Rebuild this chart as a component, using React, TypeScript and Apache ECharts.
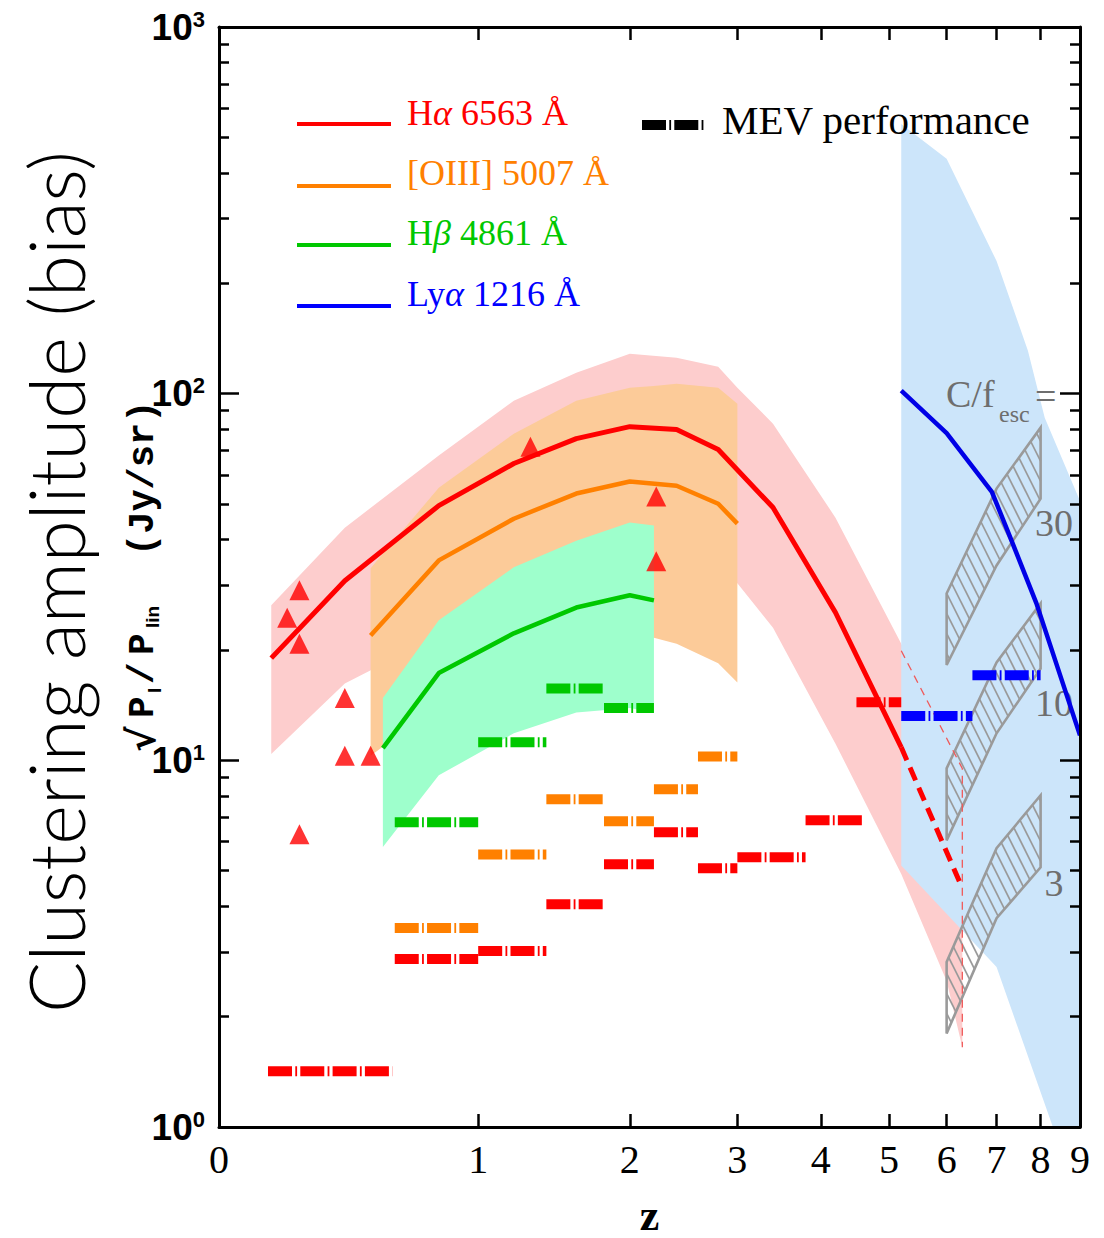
import React, { useEffect, useRef } from "react";
import * as echarts from "echarts";

// ---- axis ticks -------------------------------------------------------
const zTicks = [0, 1, 2, 3, 4, 5, 6, 7, 8, 9];
const decades = [0, 1, 2, 3];
const minorSteps = [2, 3, 4, 5, 6, 7, 8, 9];

// ---- Hα 6563 Å model -------------------------------------------------
const haZ = [0.15, 0.4, 0.8, 1.2, 1.6, 2.0, 2.4, 2.8, 3.4, 4.2, 5.2];
const haV = [19.0, 30.9, 49.5, 64.5, 75.4, 81.3, 79.8, 70.4, 48.9, 25.3, 10.85];
const haExtZ = [5.2, 6.3];
const haExtV = [10.85, 4.48];
const haBandZ = [0.15, 0.4, 0.8, 1.2, 1.6, 2.0, 2.4, 2.8, 3.0, 3.4, 4.2, 5.2, 6.0, 6.3];
const haBandHigh = [26.5, 43.1, 67.8, 95.7, 114, 128.5, 125.3, 118.5, 103.8, 82.8, 45.9, 20.8, 11.5, 9.4];
const haBandLow = [10.4, 16.2, 21.9, 27.3, 30.0, 31.3, 31.3, 31.5, 30.4, 23.0, 11.1, 4.9, 2.5, 1.65];
const haEdgeZ = [5.2, 6.3, 6.3];
const haEdgeV = [19.9, 9.5, 1.65];

// ---- [OIII] 5007 Å model ---------------------------------------------
const oiiiZ = [0.5, 0.8, 1.2, 1.6, 2.0, 2.4, 2.8, 3.0];
const oiiiV = [21.9, 35.1, 45.6, 53.4, 57.6, 56.1, 50.1, 44.2];
const oiiiBandZ = [0.5, 0.8, 1.2, 1.6, 2.0, 2.2, 2.4, 2.8, 3.0];
const oiiiBandHigh = [33.4, 55.4, 77.8, 95.7, 103.8, 105, 106.5, 103.8, 93.9];
const oiiiBandLow = [10.3, 14.1, 17.4, 19.3, 21.0, 21.6, 20.8, 18.4, 16.3];

// ---- Hβ 4861 Å model -------------------------------------------------
const hbZ = [0.55, 0.8, 1.2, 1.6, 2.0, 2.2];
const hbV = [10.8, 17.3, 22.2, 26.1, 28.2, 27.3];
const hbBandZ = [0.55, 0.8, 1.2, 1.6, 2.0, 2.2];
const hbBandHigh = [14.8, 24.1, 33.6, 39.7, 44.5, 43.7];
const hbBandLow = [5.8, 9.1, 11.85, 13.5, 13.9, 13.5];

// ---- Lyα 1216 Å model ------------------------------------------------
const lyaZ = [5.2, 6.0, 6.9, 7.3, 7.9, 9.0];
const lyaV = [102, 78, 54, 40.5, 26.8, 11.7];
const lyaBandHighZ = [5.2, 6.0, 7.0, 7.7, 8.1, 9.0];
const lyaBandHigh = [544, 437, 230, 131, 86, 51];
const lyaBandLowZ = [5.2, 7.0, 8.3, 9.0];
const lyaBandLow = [5.17, 2.73, 1.0, 1.0];

// ---- Lyα bias for C/f_esc = 3, 10, 30 ---------------------------------
const escZ = [6, 7, 8];
const esc3High = [2.82, 5.76, 8.03];
const esc3Low = [1.8, 3.71, 5.11];
const esc10High = [9.51, 18.5, 26.8];
const esc10Low = [6.05, 11.85, 17.8];
const esc30High = [28.5, 55.1, 80.8];
const esc30Low = [18.2, 34.0, 51.7];
const escLabels = ["3", "10", "30"];
const escLabelZ = 8.33;
const escLabelV = [4.62, 14.3, 44.5];

// ---- measured points ---------------------------------------------------
const pointZ = [0.24, 0.2, 0.24, 0.4, 0.4, 0.5, 1.3, 2.22, 2.22, 0.24];
const pointV = [29.1, 24.5, 20.8, 14.8, 10.3, 10.3, 71.7, 52.4, 34.9, 6.29];

// ---- MEV performance: [z from, z to, amplitude] -----------------------
const mevHa = [
  [0.14, 0.59, 1.42], [0.6, 1.0, 2.87], [1.0, 1.4, 3.02], [1.4, 1.8, 4.05],
  [1.8, 2.2, 5.21], [2.2, 2.6, 6.37], [2.6, 3.0, 5.08], [3.0, 3.8, 5.44],
  [3.8, 4.6, 6.86], [4.5, 5.2, 14.4],
];
const mevOiii = [
  [0.6, 1.0, 3.49], [1.0, 1.4, 5.54], [1.4, 1.8, 7.83], [1.8, 2.2, 6.82],
  [2.2, 2.6, 8.34], [2.6, 3.0, 10.25],
];
const mevHb = [[0.6, 1.0, 6.78], [1.0, 1.4, 11.2], [1.4, 1.8, 15.7], [1.8, 2.2, 13.9]];
const mevLya = [[5.2, 6.5, 13.2], [6.5, 8.0, 17.05]];

const legendLabels = ["Hα 6563 Å", "[OIII] 5007 Å", "Hβ 4861 Å", "Lyα 1216 Å"];

// ---- styling ---------------------------------------------------------
const RED = "#ff0000";
const ORANGE = "#ff8000";
const GREEN = "#00c800";
const BLUE = "#0000ff";
const GRAY = "#9a9a9a";
const LABEL_GRAY = "#6e6e6e";
const PINK_FILL = "#fdcdcd";
const ORANGE_FILL = "#fccb99";
const GREEN_FILL = "#9effcc";
const BLUE_FILL = "#cce5fa";
const MEV_DASH = [24, 3.3, 1.8, 3.2];
const SERIF = "'Liberation Serif', 'DejaVu Serif', serif";
const SANS = "'Liberation Sans', Arial, sans-serif";
const MONO = "'Liberation Mono', 'DejaVu Sans Mono', monospace";

// x axis is linear in log10(1+z), y axis linear in log10(amplitude)
const X = (z: number) => Math.log10(1 + z);
const Y = (v: number) => Math.log10(v);
const pts = (zs: number[], vs: number[]) => zs.map((z, i) => [X(z), Y(vs[i])]);

function bandSeries(name: string, zHi: number[], hi: number[], zLo: number[], lo: number[], fill: string, z: number) {
  const poly = [...pts(zHi, hi), ...pts(zLo, lo).reverse()];
  return {
    type: "custom",
    name,
    silent: true,
    z,
    data: [poly[0]],
    encode: { x: 0, y: 1 },
    renderItem: (_p: any, api: any) => ({
      type: "polygon",
      shape: { points: poly.map((p) => api.coord(p)) },
      style: { fill },
    }),
  };
}

function lineSeries(name: string, zs: number[], vs: number[], color: string, width: number, z: number, dash?: any) {
  return {
    type: "line",
    name,
    silent: true,
    z,
    showSymbol: false,
    symbol: "none",
    data: pts(zs, vs),
    lineStyle: { color, width, type: dash || "solid", cap: "butt" },
  };
}

function mevSeries(name: string, bars: number[][], color: string) {
  return {
    type: "custom",
    name,
    silent: true,
    z: 7,
    data: bars.map((b) => [X(b[0]), X(b[1]), Y(b[2])]),
    encode: { x: [0, 1], y: 2 },
    renderItem: (_p: any, api: any) => {
      const a = api.coord([api.value(0), api.value(2)]);
      const b = api.coord([api.value(1), api.value(2)]);
      return {
        type: "line",
        shape: { x1: a[0], y1: a[1], x2: b[0], y2: b[1] },
        style: { stroke: color, lineWidth: 10, lineDash: MEV_DASH, lineCap: "butt" },
      };
    },
  };
}

// diagonal hatching clipped to a polygon (pixel space)
function hatchSegments(poly: number[][], step: number) {
  const f = (p: number[]) => p[0] - 0.5 * p[1];
  const vals = poly.map(f);
  const cMin = Math.min(...vals);
  const cMax = Math.max(...vals);
  const segs: number[][][] = [];
  for (let c = Math.ceil(cMin / step) * step; c <= cMax; c += step) {
    const hits: number[][] = [];
    for (let i = 0; i < poly.length; i++) {
      const a = poly[i];
      const b = poly[(i + 1) % poly.length];
      const fa = f(a) - c;
      const fb = f(b) - c;
      if ((fa < 0 && fb >= 0) || (fa >= 0 && fb < 0)) {
        const t = fa / (fa - fb);
        hits.push([a[0] + t * (b[0] - a[0]), a[1] + t * (b[1] - a[1])]);
      }
    }
    hits.sort((p, q) => p[1] - q[1]);
    for (let k = 0; k + 1 < hits.length; k += 2) segs.push([hits[k], hits[k + 1]]);
  }
  return segs;
}

const escSets = [
  { high: esc3High, low: esc3Low },
  { high: esc10High, low: esc10Low },
  { high: esc30High, low: esc30Low },
];

const hatchSeries = {
  type: "custom",
  name: "C/f_esc",
  silent: true,
  z: 5,
  data: escLabelV.map((v, k) => [X(escLabelZ), Y(v), k]),
  encode: { x: 0, y: 1 },
  renderItem: (_p: any, api: any) => {
    const k = api.value(2);
    const set = escSets[k];
    const top = escZ.map((z, i) => api.coord([X(z), Y(set.high[i])]));
    const bot = escZ.map((z, i) => api.coord([X(z), Y(set.low[i])])).reverse();
    const poly = [...top, ...bot];
    const children: any[] = hatchSegments(poly, 10).map(([p, q]) => ({
      type: "line",
      shape: { x1: p[0], y1: p[1], x2: q[0], y2: q[1] },
      style: { stroke: GRAY, lineWidth: 1.7 },
    }));
    children.push({
      type: "polygon",
      shape: { points: poly },
      style: { fill: "none", stroke: GRAY, lineWidth: 2.6 },
    });
    const lp = api.coord([api.value(0), api.value(1)]);
    children.push({
      type: "text",
      x: lp[0],
      y: lp[1],
      style: {
        text: escLabels[k],
        fill: LABEL_GRAY,
        fontSize: 38,
        fontFamily: SERIF,
        align: "center",
        verticalAlign: "middle",
      },
    });
    return { type: "group", children };
  },
};

const tickLine = { color: "#000", width: 2.5 };
const axisLine = { show: true, onZero: false, lineStyle: { color: "#000", width: 3 } };

const xMajor = zTicks.filter((z) => z > 0).map(X);
const yMajor = [1, 2];
const yMinor: number[] = [];
decades.slice(0, 3).forEach((d) => minorSteps.forEach((m) => yMinor.push(d + Math.log10(m))));

function xAxisOf(position: "top" | "bottom", labels: boolean) {
  return {
    type: "value",
    position,
    min: 0,
    max: 1,
    z: 10,
    splitLine: { show: false },
    axisLine,
    axisTick: { show: true, inside: true, length: 13, customValues: xMajor, lineStyle: tickLine },
    axisLabel: labels
      ? {
          show: true,
          customValues: zTicks.map(X),
          formatter: (v: number) => String(Math.round(Math.pow(10, v) - 1)),
          fontFamily: SERIF,
          fontSize: 40,
          color: "#000",
          margin: 12,
        }
      : { show: false },
    name: labels ? "z" : "",
    nameLocation: "middle",
    nameGap: 66,
    nameTextStyle: { fontFamily: SERIF, fontWeight: "bold", fontSize: 44, color: "#000" },
  };
}

function yAxisOf(position: "left" | "right", minor: boolean, labels: boolean) {
  const base: any = {
    type: "value",
    position,
    min: 0,
    max: 3,
    z: 10,
    splitLine: { show: false },
    axisLine: minor ? { show: false, onZero: false } : axisLine,
    axisTick: {
      show: true,
      inside: true,
      length: minor ? 10 : 20,
      customValues: minor ? yMinor : yMajor,
      lineStyle: tickLine,
    },
    axisLabel: { show: false },
  };
  if (labels) {
    base.axisLabel = {
      show: true,
      customValues: decades,
      margin: 14,
      formatter: (v: number) => `{b|10}{s|${Math.round(v)}}`,
      rich: {
        b: { fontFamily: SANS, fontWeight: "bold", fontSize: 37, lineHeight: 38, color: "#000" },
        s: { fontFamily: SANS, fontWeight: "bold", fontSize: 22, lineHeight: 22, color: "#000", verticalAlign: "top" },
      },
    };
  }
  return base;
}

// legend rows
const legendLineY = [124, 186, 245, 306];
const legendTextY = [113, 173, 233, 294];
const legendColors = [RED, ORANGE, GREEN, BLUE];

const legendGraphics: any[] = [];
legendLabels.forEach((label, i) => {
  legendGraphics.push({
    type: "line",
    z: 20,
    shape: { x1: 297, y1: legendLineY[i], x2: 391, y2: legendLineY[i] },
    style: { stroke: legendColors[i], lineWidth: 4 },
  });
  legendGraphics.push({
    type: "text",
    z: 20,
    x: 407,
    y: legendTextY[i],
    style: {
      text: label.replace(/([αβ])/g, "{i|$1}"),
      fill: legendColors[i],
      fontFamily: SERIF,
      fontSize: 36,
      align: "left",
      verticalAlign: "middle",
      rich: { i: { fontFamily: SERIF, fontStyle: "italic", fontSize: 36, fill: legendColors[i] } },
    },
  });
});

// rotated y-axis title: √(P_l / P_lin) (Jy/sr), laid out along the rotated baseline
const yTitleMain = { fill: "#000", fontFamily: MONO, fontWeight: "bold", fontSize: 36, align: "left", verticalAlign: "middle" };
const yTitleSub = { fill: "#000", fontFamily: SANS, fontWeight: "bold", fontSize: 19, align: "left", verticalAlign: "middle" };
const yTitle = {
  type: "group",
  z: 20,
  x: 143,
  y: 752,
  rotation: Math.PI / 2,
  children: [
    { type: "text", x: 0, y: -1, style: { ...yTitleMain, text: "√", fontFamily: "'DejaVu Sans', sans-serif", fontSize: 38 } },
    { type: "text", x: 34, y: 0, style: { ...yTitleMain, text: "P" } },
    { type: "text", x: 59, y: 11, style: { ...yTitleSub, text: "l" } },
    { type: "text", x: 68, y: 0, style: { ...yTitleMain, text: "/" } },
    { type: "text", x: 97, y: 0, style: { ...yTitleMain, text: "P" } },
    { type: "text", x: 124, y: 9, style: { ...yTitleSub, text: "lin" } },
    { type: "text", x: 196, y: 0, style: { ...yTitleMain, text: "(Jy/sr)", fontSize: 37 } },
  ],
};

const option: any = {
  animation: false,
  backgroundColor: "#ffffff",
  grid: { left: 219, right: 24, top: 27, bottom: 111, containLabel: false, outerBoundsMode: "none" },
  xAxis: [xAxisOf("bottom", true), xAxisOf("top", false)],
  yAxis: [
    yAxisOf("left", false, true),
    yAxisOf("left", true, false),
    yAxisOf("right", false, false),
    yAxisOf("right", true, false),
  ],
  series: [
    bandSeries("Hα band", haBandZ, haBandHigh, haBandZ, haBandLow, PINK_FILL, 1),
    bandSeries("[OIII] band", oiiiBandZ, oiiiBandHigh, oiiiBandZ, oiiiBandLow, ORANGE_FILL, 2),
    bandSeries("Hβ band", hbBandZ, hbBandHigh, hbBandZ, hbBandLow, GREEN_FILL, 3),
    bandSeries("Lyα band", lyaBandHighZ, lyaBandHigh, lyaBandLowZ, lyaBandLow, BLUE_FILL, 4),
    lineSeries("Hα band edge", haEdgeZ, haEdgeV, "#f05a5a", 1.3, 5, [8, 6]),
    hatchSeries,
    lineSeries("Hα 6563 Å", haZ, haV, RED, 5, 6),
    lineSeries("Hα 6563 Å (extrapolated)", haExtZ, haExtV, RED, 5, 6, [14, 8]),
    lineSeries("[OIII] 5007 Å", oiiiZ, oiiiV, ORANGE, 4.5, 6),
    lineSeries("Hβ 4861 Å", hbZ, hbV, GREEN, 4.5, 6),
    lineSeries("Lyα 1216 Å", lyaZ, lyaV, "#0000e6", 4.5, 6),
    mevSeries("MEV Hα", mevHa, RED),
    mevSeries("MEV [OIII]", mevOiii, ORANGE),
    mevSeries("MEV Hβ", mevHb, GREEN),
    mevSeries("MEV Lyα", mevLya, BLUE),
    {
      type: "scatter",
      name: "Hα measurements",
      silent: true,
      z: 8,
      symbol: "triangle",
      symbolSize: [20, 20],
      itemStyle: { color: RED },
      data: pts(pointZ, pointV),
    },
  ],
  graphic: [
    ...legendGraphics,
    {
      type: "line",
      z: 20,
      shape: { x1: 642, y1: 125, x2: 705, y2: 125 },
      style: { stroke: "#000", lineWidth: 10, lineDash: MEV_DASH, lineCap: "butt" },
    },
    {
      type: "text",
      z: 20,
      x: 722,
      y: 120,
      style: { text: "MEV performance", fill: "#000", fontFamily: SERIF, fontSize: 41, align: "left", verticalAlign: "middle" },
    },
    {
      type: "text",
      z: 20,
      x: 946,
      y: 394,
      style: { text: "C/f", fill: LABEL_GRAY, fontFamily: SERIF, fontSize: 38, align: "left", verticalAlign: "middle" },
    },
    {
      type: "text",
      z: 20,
      x: 999,
      y: 414,
      style: { text: "esc", fill: LABEL_GRAY, fontFamily: SERIF, fontSize: 24, align: "left", verticalAlign: "middle" },
    },
    {
      type: "text",
      z: 20,
      x: 1035,
      y: 396,
      style: { text: "=", fill: LABEL_GRAY, fontFamily: SERIF, fontSize: 38, align: "left", verticalAlign: "middle" },
    },
    yTitle,
    {
      type: "text",
      z: 20,
      x: 55,
      y: 582,
      rotation: Math.PI / 2,
      style: {
        text: "Clustering amplitude (bias)",
        fill: "#000",
        fontFamily: "Lato, 'Liberation Sans', sans-serif",
        fontWeight: 300,
        fontSize: 76,
        align: "center",
        verticalAlign: "middle",
      },
    },
  ],
};

export default function App() {
  const ref = useRef<HTMLDivElement>(null);
  useEffect(() => {
    if (!ref.current) return;
    const chart = echarts.init(ref.current, null, { renderer: "svg" });
    chart.setOption(option);
    return () => chart.dispose();
  }, []);
  return (
    <div
      ref={ref}
      style={{ position: "fixed", left: 0, top: 0, width: 1104, height: 1238, background: "#fff" }}
    />
  );
}
